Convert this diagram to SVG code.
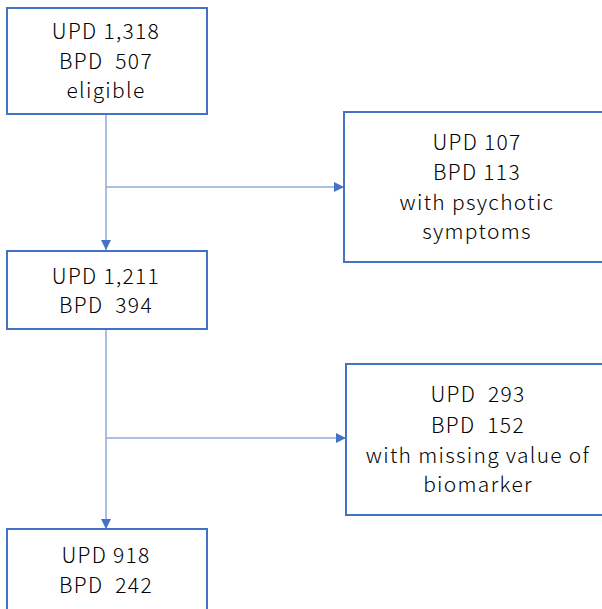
<svg xmlns="http://www.w3.org/2000/svg" width="602" height="609" viewBox="0 0 602 609">
<defs>
<style>
.box{fill:#fff;stroke:#4472C4;stroke-width:2}
.t{font-family:"Noto Sans CJK SC","Noto Sans",sans-serif;font-size:21px;font-weight:300;letter-spacing:1.3px;fill:#000;text-anchor:middle;white-space:pre}
.c{stroke:#8FAADC;stroke-width:1.5;fill:none}
</style>
<marker id="ah" viewBox="0 0 10 10" refX="10" refY="5" markerWidth="10" markerHeight="10" markerUnits="userSpaceOnUse" orient="auto"><path d="M0,0 L10,5 L0,10 z" fill="#4472C4"/></marker>
</defs>
<rect width="602" height="609" fill="#fff"/>
<g id="connectors">
<line class="c" x1="106" y1="115" x2="106" y2="250" marker-end="url(#ah)"/>
<line class="c" x1="106" y1="187" x2="344" y2="187" marker-end="url(#ah)"/>
<line class="c" x1="106" y1="330" x2="106" y2="529" marker-end="url(#ah)"/>
<line class="c" x1="106" y1="438" x2="346" y2="438" marker-end="url(#ah)"/>
</g>
<g id="eligible">
<rect class="box" x="7" y="8" width="200" height="106"/>
<text class="t" x="106" y="39">UPD 1,318</text>
<text class="t" x="106" y="69">BPD  507</text>
<text class="t" x="106" y="98">eligible</text>
</g>
<g id="psychotic">
<rect class="box" x="344" y="112" width="264" height="150"/>
<text class="t" x="477" y="150">UPD 107</text>
<text class="t" x="477" y="180">BPD 113</text>
<text class="t" x="477" y="210">with psychotic</text>
<text class="t" x="477" y="239">symptoms</text>
</g>
<g id="after1">
<rect class="box" x="7" y="251" width="200" height="78"/>
<text class="t" x="106" y="284">UPD 1,211</text>
<text class="t" x="106" y="313">BPD  394</text>
</g>
<g id="missing">
<rect class="box" x="346" y="364" width="262" height="151"/>
<text class="t" x="478" y="402">UPD  293</text>
<text class="t" x="478" y="433">BPD  152</text>
<text class="t" x="478" y="463">with missing value of</text>
<text class="t" x="478" y="492">biomarker</text>
</g>
<g id="final">
<rect class="box" x="7" y="529" width="200" height="90"/>
<text class="t" x="106" y="563">UPD 918</text>
<text class="t" x="106" y="593">BPD  242</text>
</g>
</svg>
